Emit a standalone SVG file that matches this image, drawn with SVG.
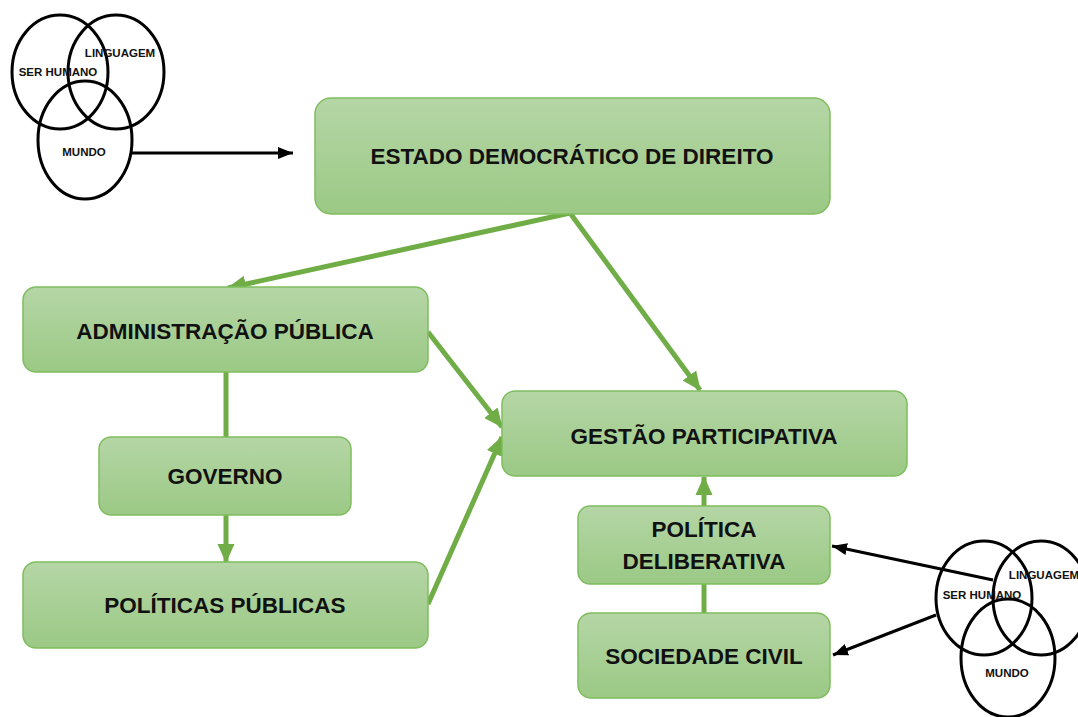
<svg xmlns="http://www.w3.org/2000/svg" width="1078" height="717" viewBox="0 0 1078 717">
<style>
.box{fill:url(#g);stroke:#7fbd5e;stroke-width:1.5}
.t{font-family:"Liberation Sans",Arial,sans-serif;font-weight:bold;font-size:22.5px;fill:#111;text-anchor:middle}
.v{font-family:"Liberation Sans",Arial,sans-serif;font-weight:bold;font-size:11.5px;fill:#111;text-anchor:middle}
.c{fill:none;stroke:#000;stroke-width:3}
.gl{fill:none;stroke:#70ad47;stroke-width:5}
.bl{fill:none;stroke:#000;stroke-width:3}
</style>
<defs>
<linearGradient id="g" x1="0" y1="0" x2="0" y2="1">
<stop offset="0" stop-color="#b5d6a6"/>
<stop offset="1" stop-color="#9bc985"/>
</linearGradient>
<marker id="ga" markerUnits="userSpaceOnUse" markerWidth="20" markerHeight="20" viewBox="0 0 20 20" refX="18" refY="10" orient="auto">
<path d="M0,1.5 L19,10 L0,18.5 Z" fill="#70ad47"/>
</marker>
<marker id="ba" markerUnits="userSpaceOnUse" markerWidth="16" markerHeight="14" viewBox="0 0 16 14" refX="15" refY="7" orient="auto">
<path d="M0,1 L15,7 L0,13 Z" fill="#000"/>
</marker>
</defs>
<rect width="1078" height="717" fill="#fff"/>

<g id="connectors">
<line class="gl" x1="570" y1="213" x2="228" y2="288" marker-end="url(#ga)"/>
<line class="gl" x1="570" y1="213" x2="700" y2="390" marker-end="url(#ga)"/>
<line class="gl" x1="428" y1="332" x2="502" y2="427" marker-end="url(#ga)"/>
<line class="gl" x1="428" y1="604" x2="502" y2="437" marker-end="url(#ga)"/>
<line class="gl" x1="226" y1="372" x2="226" y2="437"/>
<line class="gl" x1="226" y1="515" x2="226" y2="562" marker-end="url(#ga)"/>
<line class="gl" x1="704" y1="506" x2="704" y2="477" marker-end="url(#ga)"/>
<line class="gl" x1="704" y1="613" x2="704" y2="584"/>
<line class="bl" x1="132" y1="153" x2="293" y2="153" marker-end="url(#ba)"/>
<line class="bl" x1="993" y1="580" x2="832" y2="546" marker-end="url(#ba)"/>
<line class="bl" x1="936" y1="615" x2="833" y2="655" marker-end="url(#ba)"/>
</g>

<g id="venn-top">
<ellipse class="c" cx="60" cy="72" rx="48" ry="57"/>
<ellipse class="c" cx="116" cy="72" rx="48" ry="57"/>
<ellipse class="c" cx="85" cy="140" rx="47" ry="59"/>
<text class="v" x="58" y="76">SER HUMANO</text>
<text class="v" x="120" y="57">LINGUAGEM</text>
<text class="v" x="84" y="156">MUNDO</text>
</g>

<g id="venn-bottom">
<ellipse class="c" cx="984" cy="598" rx="48" ry="57"/>
<ellipse class="c" cx="1041" cy="598" rx="48" ry="57"/>
<ellipse class="c" cx="1008" cy="658" rx="47" ry="59"/>
<text class="v" x="982" y="599">SER HUMANO</text>
<text class="v" x="1044" y="579">LINGUAGEM</text>
<text class="v" x="1007" y="677">MUNDO</text>
</g>

<g id="estado">
<rect class="box" x="315" y="98" width="515" height="116" rx="16"/>
<text class="t" x="572" y="164">ESTADO DEMOCRÁTICO DE DIREITO</text>
</g>
<g id="administracao">
<rect class="box" x="23" y="287" width="405" height="85" rx="13"/>
<text class="t" x="225" y="339">ADMINISTRAÇÃO PÚBLICA</text>
</g>
<g id="governo">
<rect class="box" x="99" y="437" width="252" height="78" rx="12"/>
<text class="t" x="225" y="484">GOVERNO</text>
</g>
<g id="politicas-publicas">
<rect class="box" x="23" y="562" width="405" height="86" rx="13"/>
<text class="t" x="225" y="613">POLÍTICAS PÚBLICAS</text>
</g>
<g id="gestao">
<rect class="box" x="502" y="391" width="405" height="85" rx="13"/>
<text class="t" x="704" y="444">GESTÃO PARTICIPATIVA</text>
</g>
<g id="politica-deliberativa">
<rect class="box" x="578" y="506" width="252" height="78" rx="12"/>
<text class="t" x="704" y="537">POLÍTICA</text>
<text class="t" x="704" y="569">DELIBERATIVA</text>
</g>
<g id="sociedade-civil">
<rect class="box" x="578" y="613" width="252" height="85" rx="13"/>
<text class="t" x="704" y="664">SOCIEDADE CIVIL</text>
</g>
</svg>
